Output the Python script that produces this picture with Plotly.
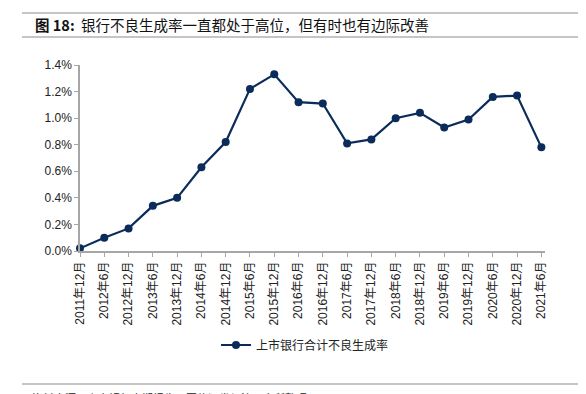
import plotly.graph_objects as go

categories = ["2011年12月", "2012年6月", "2012年12月", "2013年6月", "2013年12月",
              "2014年6月", "2014年12月", "2015年6月", "2015年12月", "2016年6月",
              "2016年12月", "2017年6月", "2017年12月", "2018年6月", "2018年12月",
              "2019年6月", "2019年12月", "2020年6月", "2020年12月", "2021年6月"]
npl_rate = [0.02, 0.10, 0.17, 0.34, 0.40, 0.63, 0.82, 1.22, 1.33, 1.12,
            1.11, 0.81, 0.84, 1.00, 1.04, 0.93, 0.99, 1.16, 1.17, 0.78]
y_ticks = [0.0, 0.2, 0.4, 0.6, 0.8, 1.0, 1.2, 1.4]
y_tick_text = ["0.0%", "0.2%", "0.4%", "0.6%", "0.8%", "1.0%", "1.2%", "1.4%"]
series_name = "上市银行合计不良生成率"
title_text = "<b>图 18:</b>  银行不良生成率一直都处于高位，但有时也有边际改善"
source_text = "资料来源：上市银行定期报告，国信证券经济研究所整理"

W, H = 586, 394
L, R, T, B = 80, 41, 65, 143
pw, ph = W - L - R, H - T - B

def px_x(x):
    return (x - L) / pw

def px_y(y):
    return (H - B - y) / ph

navy = "#0b2c5a"
font_main = "Liberation Sans, Arial, Noto Sans CJK SC, sans-serif"
font_cjk = "Noto Sans CJK SC, Liberation Sans, sans-serif"

fig = go.Figure()
fig.add_trace(go.Scatter(
    x=list(range(len(categories))), y=npl_rate, mode="lines+markers",
    name=series_name,
    line=dict(color=navy, width=2.2),
    marker=dict(color=navy, size=8),
    cliponaxis=False,
))

fig.update_layout(
    width=W, height=H,
    margin=dict(l=L, r=R, t=T, b=B),
    paper_bgcolor="white", plot_bgcolor="white",
    font=dict(family=font_main, size=12, color="#222222"),
    showlegend=True,
    legend=dict(orientation="h", x=px_x(305), xanchor="center",
                y=px_y(345), yanchor="middle",
                font=dict(family=font_cjk, size=12, color="#222222"),
                bgcolor="rgba(0,0,0,0)"),
    xaxis=dict(
        range=[0, 19.15], tickmode="array",
        tickvals=list(range(len(categories))), ticktext=categories,
        tickangle=-90, showgrid=False, zeroline=False,
        showline=True, linecolor="#a6a6a6", linewidth=1.5,
        ticks="outside", ticklen=4, tickcolor="#a6a6a6", tickwidth=1,
        tickfont=dict(family=font_main, size=12, color="#222222"),
        automargin=False,
    ),
    yaxis=dict(
        range=[0, 1.4], tickmode="array", tickvals=y_ticks, ticktext=y_tick_text,
        showgrid=False, zeroline=False,
        showline=True, linecolor="#a6a6a6", linewidth=1.5,
        ticks="outside", ticklen=4, tickcolor="#a6a6a6", tickwidth=1,
        tickfont=dict(family=font_main, size=12, color="#222222"),
        automargin=False,
    ),
)

# header and footer rules
for ypx in (13, 37, 384):
    fig.add_shape(type="line", xref="paper", yref="paper",
                  x0=px_x(22), x1=px_x(578), y0=px_y(ypx), y1=px_y(ypx),
                  line=dict(color="#8c8c8c", width=1.2))

fig.add_annotation(text=title_text, xref="paper", yref="paper",
                   x=px_x(33), y=px_y(25), xanchor="left", yanchor="middle",
                   showarrow=False,
                   font=dict(family=font_cjk, size=14.5, color="#111111"))
fig.add_annotation(text=source_text, xref="paper", yref="paper",
                   x=px_x(30), y=px_y(388), xanchor="left", yanchor="top",
                   showarrow=False,
                   font=dict(family=font_cjk, size=11, color="#222222"))

fig.write_html("out.html", config={"displayModeBar": False},
               post_script="document.body.style.margin='0px';document.body.style.overflow='hidden';")
